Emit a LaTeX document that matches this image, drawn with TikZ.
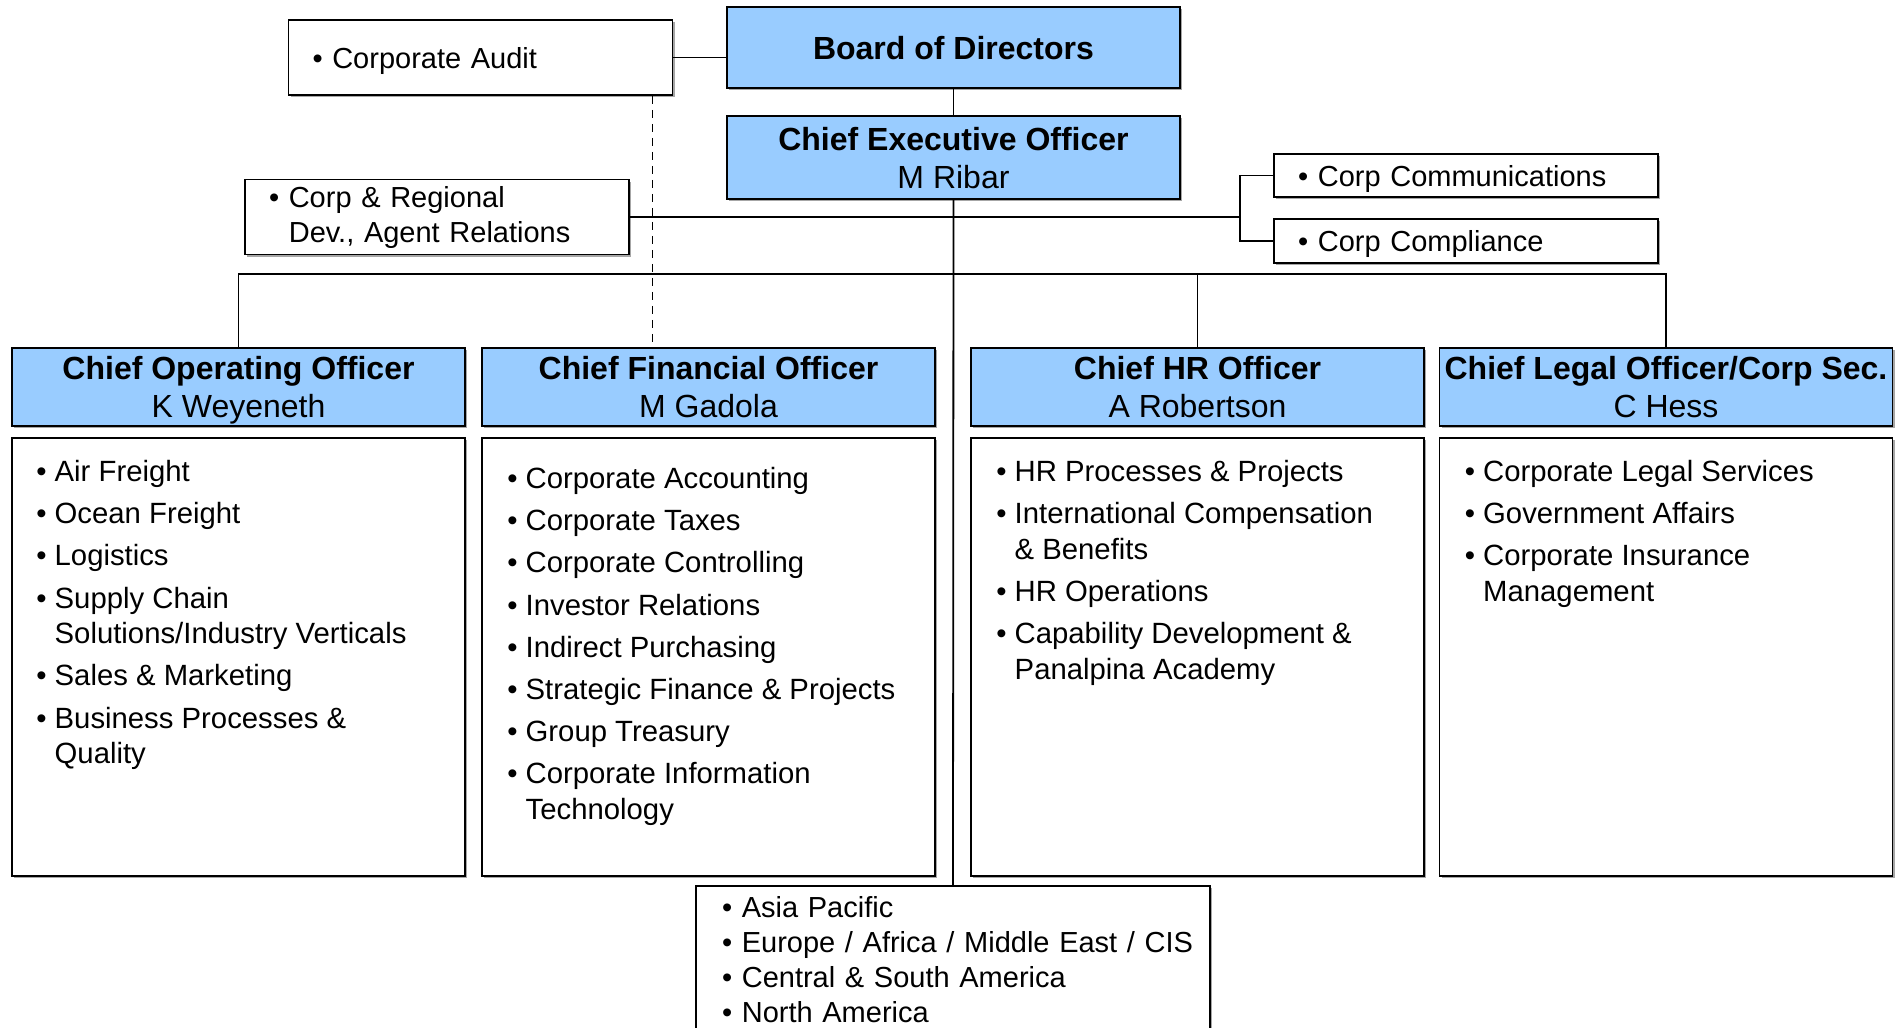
\documentclass[tikz,border=0pt]{standalone}
\usepackage{fontspec}
\setmainfont{Liberation Sans}
\usetikzlibrary{positioning,shadows}
\definecolor{boxblue}{HTML}{99CCFF}
\newcommand{\itm}{\textbullet\ }
\newcommand{\ind}{\phantom{\textbullet\ }}

\begin{document}
\begin{tikzpicture}[x=1pt, y=-1pt,
  boxed/.style={rectangle, draw=black, line width=1.8pt, drop shadow={shadow xshift=2pt, shadow yshift=-2pt, fill=black!35, opacity=1}},
  chief/.style={boxed, fill=boxblue, minimum width=453pt, minimum height=78pt, inner xsep=0pt, text depth=0pt, align=center, font=\fontsize{32}{38}\selectfont},
  remit/.style={boxed, fill=white, minimum width=453pt, minimum height=438pt},
  unit/.style={boxed, fill=white, text width=336pt, inner xsep=24pt, inner ysep=0pt, align=left, font=\fontsize{29}{35}\selectfont},
  lst/.style={anchor=north west, inner sep=0pt, align=left, font=\fontsize{29.3}{35.6}\selectfont},
  link/.style={line width=1.8pt},
  dotl/.style={line width=1.5pt, dash pattern=on 8pt off 6pt}
]
\useasboundingbox (0,0) rectangle (1899,1028);

% top of the chart
\node[chief, minimum height=81pt] (board) at (953.5,47.5) {\textbf{Board of Directors}};
\node[chief, minimum height=83pt] (ceo) at (953.5,157.5) {\textbf{Chief Executive Officer}\\M Ribar};
\node[unit, minimum height=75pt, text depth=0pt] (audit) at (480.5,57.5) {\itm Corporate Audit};
\node[unit, minimum height=75pt] (corpreg) at (437,217) {\itm Corp \& Regional\\ \ind Dev., Agent Relations};
\node[unit, minimum height=43pt, text depth=0pt] (comm) at (1466,175.5) {\itm Corp Communications};
\node[unit, minimum height=44pt, text depth=0pt] (compl) at (1466,241) {\itm Corp Compliance};

% officers
\node[chief] (coo) at (238.5,387) {\textbf{Chief Operating Officer}\\K Weyeneth};
\node[chief] (cfo) at (708.5,387) {\textbf{Chief Financial Officer}\\M Gadola};
\node[chief] (chro) at (1197.5,387) {\textbf{Chief HR Officer}\\A Robertson};
\node[chief] (clo) at (1666,387) {\textbf{Chief Legal Officer/Corp Sec.}\\C Hess};

% what each officer covers
\node[remit] (coob) at (238.5,657) {};
\node[remit] (cfob) at (708.5,657) {};
\node[remit] (chrob) at (1197.5,657) {};
\node[remit] (clob) at (1666,657) {};

\node[lst] (coolist) at ([xshift=25pt, yshift=-23pt]coob.north west) {\itm Air Freight\\[6.6pt]
  \itm Ocean Freight\\[6.6pt]
  \itm Logistics\\[6.6pt]
  \itm Supply Chain\\
  \ind Solutions/Industry Verticals\\[6.6pt]
  \itm Sales \& Marketing\\[6.6pt]
  \itm Business Processes \&\\
  \ind Quality};
\node[lst] (cfolist) at ([xshift=26pt, yshift=-30pt]cfob.north west) {\itm Corporate Accounting\\[6.6pt]
  \itm Corporate Taxes\\[6.6pt]
  \itm Corporate Controlling\\[6.6pt]
  \itm Investor Relations\\[6.6pt]
  \itm Indirect Purchasing\\[6.6pt]
  \itm Strategic Finance \& Projects\\[6.6pt]
  \itm Group Treasury\\[6.6pt]
  \itm Corporate Information\\
  \ind Technology};
\node[lst] (chrolist) at ([xshift=26pt, yshift=-23pt]chrob.north west) {\itm HR Processes \& Projects\\[6.6pt]
  \itm International Compensation\\
  \ind \& Benefits\\[6.6pt]
  \itm HR Operations\\[6.6pt]
  \itm Capability Development \&\\
  \ind Panalpina Academy};
\node[lst] (clolist) at ([xshift=26pt, yshift=-23pt]clob.north west) {\itm Corporate Legal Services\\[6.6pt]
  \itm Government Affairs\\[6.6pt]
  \itm Corporate Insurance\\
  \ind Management};

% regions
\node[unit, anchor=north, text width=462pt, inner xsep=26pt, inner ysep=11pt] (regions) at (953,885) {\itm Asia Pacific\\
  \mbox{\itm Europe / Africa / Middle East / CIS}\\
  \itm Central \& South America\\
  \itm North America};

% reporting lines
\coordinate (bus) at (953,274);
\coordinate (fork) at (1240,217);
\draw[link] (audit.east) -- (audit.east -| board.west);
\draw[link] (board.south) -- (ceo.north);
\draw[link] (ceo.south) -- (regions.north);
\draw[link] (coo.north) |- (bus) -| (clo.north);
\draw[link] (bus) -| (chro.north);
\draw[link] (corpreg.east) -- (fork);
\draw[link] (comm.west) -| (fork) |- (compl.west);
\draw[dotl] ([xshift=-21pt]audit.south east) -- ([xshift=-21pt]audit.south east |- cfo.north);
\end{tikzpicture}
\end{document}
